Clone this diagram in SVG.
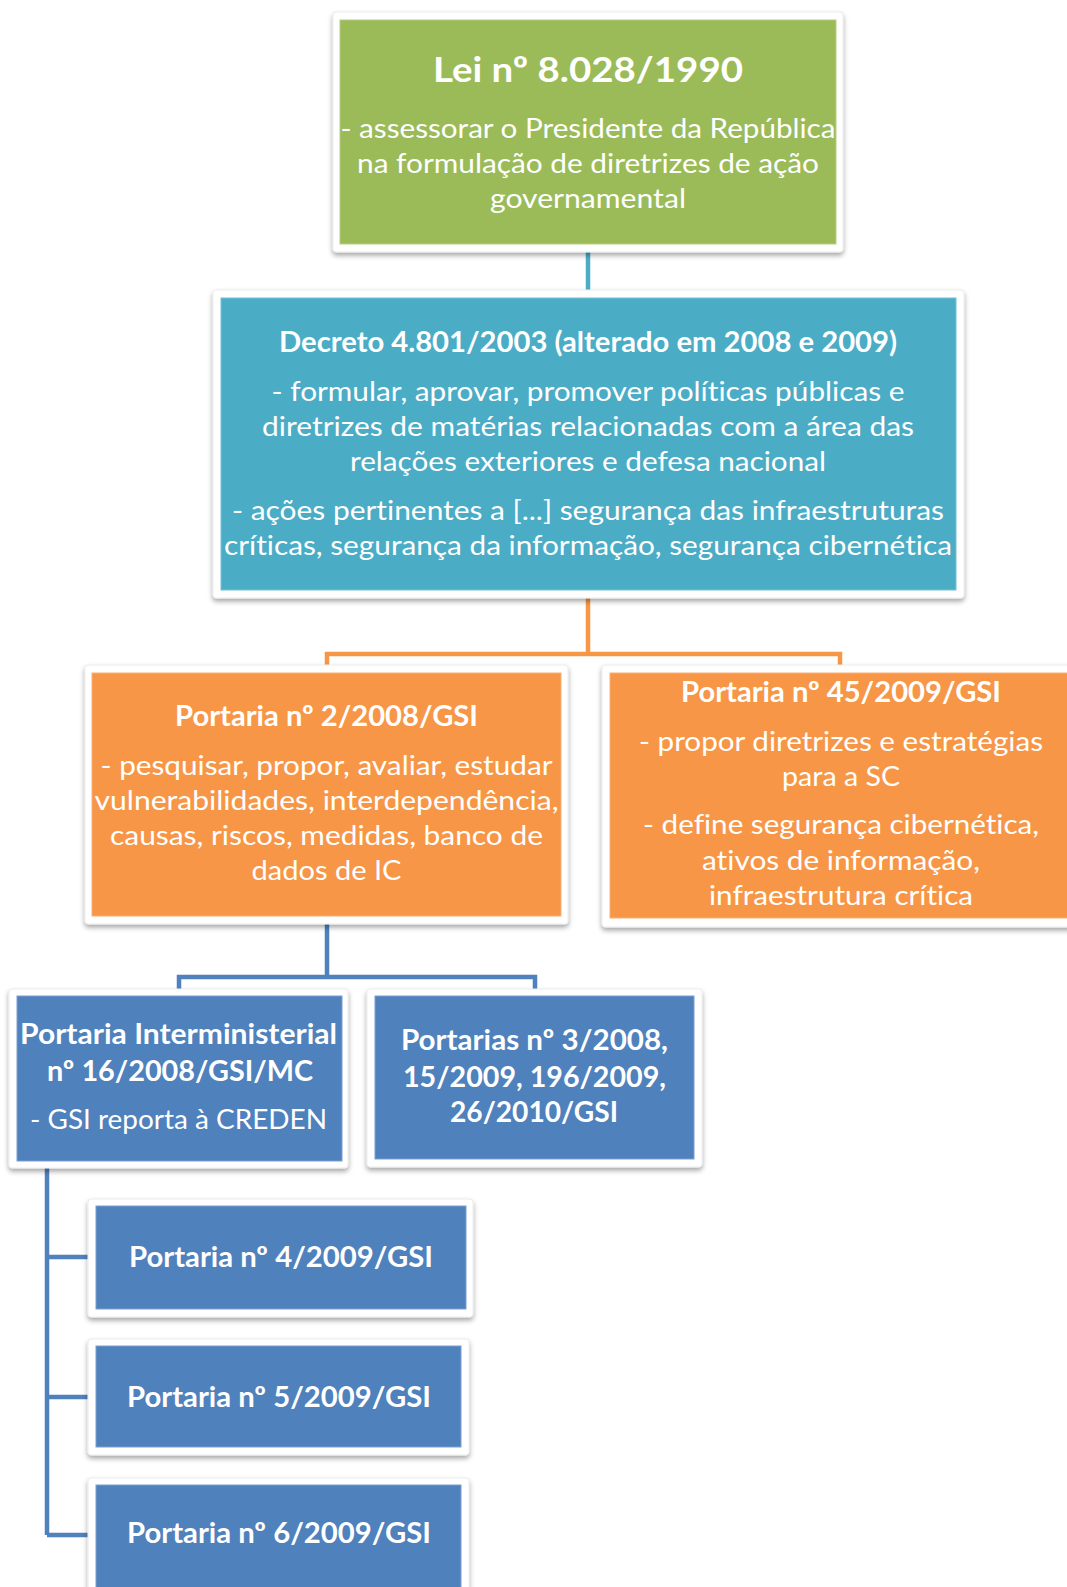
<svg xmlns="http://www.w3.org/2000/svg" width="1067" height="1587" viewBox="0 0 1067 1587">
<defs>
<filter id="sh" x="-5%" y="-5%" width="110%" height="115%">
<feDropShadow dx="0" dy="3" stdDeviation="2.5" flood-color="#000" flood-opacity="0.35"/>
</filter>
</defs>
<style>
.frame{fill:#fff;stroke:#ececec;stroke-width:1;filter:url(#sh)}
.green{fill:#9BBB59;stroke:#b4cd82;stroke-width:1}
.teal{fill:#4BACC6;stroke:#74c0d4;stroke-width:1}
.orange{fill:#F79646;stroke:#f9b075;stroke-width:1}
.blue{fill:#4F81BD;stroke:#7a9fcd;stroke-width:1}
text{font-family:Lato,"Open Sans","Liberation Sans",sans-serif;fill:#fff;text-anchor:middle;font-variant-ligatures:none;font-feature-settings:"liga" 0,"dlig" 0}
.t{font-weight:bold;font-size:29px}
.b{font-size:26px}
.c{fill:none;stroke-width:4.5}
</style>
<rect width="1067" height="1587" fill="#fff"/>
<g id="connectors">
<path class="c" stroke="#4BACC6" d="M588 252V291"/>
<path class="c" stroke="#F79646" d="M588 598V654M327 667V654H840V667"/>
<path class="c" stroke="#4F81BD" d="M327 924V977M179 990V977H535V990"/>
<path class="c" stroke="#4F81BD" d="M47 1168V1535M47 1257H90M47 1397H90M47 1535H90"/>
</g>
<g id="lei">
<rect class="frame" x="333" y="12" width="510" height="240" rx="3"/>
<rect class="green" x="340" y="20" width="496" height="224"/>
<text class="t" x="588" y="82" style="font-size:35px" textLength="310" lengthAdjust="spacingAndGlyphs">Lei nº 8.028/1990</text>
<text class="b" x="588" y="138" textLength="495" lengthAdjust="spacingAndGlyphs">- assessorar o Presidente da República</text>
<text class="b" x="588" y="173" textLength="462" lengthAdjust="spacingAndGlyphs">na formulação de diretrizes de ação</text>
<text class="b" x="588" y="208" textLength="196" lengthAdjust="spacingAndGlyphs">governamental</text>
</g>
<g id="decreto">
<rect class="frame" x="213" y="290" width="751" height="308" rx="3"/>
<rect class="teal" x="221" y="298" width="735" height="292"/>
<text class="t" x="588" y="352" textLength="618" lengthAdjust="spacingAndGlyphs">Decreto 4.801/2003 (alterado em 2008 e 2009)</text>
<text class="b" x="588" y="401" textLength="633" lengthAdjust="spacingAndGlyphs">- formular, aprovar, promover políticas públicas e</text>
<text class="b" x="588" y="436" textLength="652" lengthAdjust="spacingAndGlyphs">diretrizes de matérias relacionadas com a área das</text>
<text class="b" x="588" y="471" textLength="476" lengthAdjust="spacingAndGlyphs">relações exteriores e defesa nacional</text>
<text class="b" x="588" y="520" textLength="712" lengthAdjust="spacingAndGlyphs">- ações pertinentes a [...] segurança das infraestruturas</text>
<text class="b" x="588" y="555" textLength="728" lengthAdjust="spacingAndGlyphs">críticas, segurança da informação, segurança cibernética</text>
</g>
<g id="portaria2">
<rect class="frame" x="85" y="665" width="483" height="259" rx="3"/>
<rect class="orange" x="92" y="673" width="469" height="243"/>
<text class="t" x="326.5" y="726" textLength="303" lengthAdjust="spacingAndGlyphs">Portaria nº 2/2008/GSI</text>
<text class="b" x="326.5" y="775" textLength="452" lengthAdjust="spacingAndGlyphs">- pesquisar, propor, avaliar, estudar</text>
<text class="b" x="326.5" y="810" textLength="464" lengthAdjust="spacingAndGlyphs">vulnerabilidades, interdependência,</text>
<text class="b" x="326.5" y="845" textLength="433" lengthAdjust="spacingAndGlyphs">causas, riscos, medidas, banco de</text>
<text class="b" x="326.5" y="880" textLength="150" lengthAdjust="spacingAndGlyphs">dados de IC</text>
</g>
<g id="portaria45">
<rect class="frame" x="602" y="665" width="480" height="262" rx="3"/>
<rect class="orange" x="610" y="673" width="462" height="245"/>
<text class="t" x="841" y="702" textLength="320" lengthAdjust="spacingAndGlyphs">Portaria nº 45/2009/GSI</text>
<text class="b" x="841" y="751" textLength="404" lengthAdjust="spacingAndGlyphs">- propor diretrizes e estratégias</text>
<text class="b" x="841" y="786" textLength="118" lengthAdjust="spacingAndGlyphs">para a SC</text>
<text class="b" x="841" y="834" textLength="396" lengthAdjust="spacingAndGlyphs">- define segurança cibernética,</text>
<text class="b" x="841" y="870" textLength="278" lengthAdjust="spacingAndGlyphs">ativos de informação,</text>
<text class="b" x="841" y="905" textLength="264" lengthAdjust="spacingAndGlyphs">infraestrutura crítica</text>
</g>
<g id="interministerial">
<rect class="frame" x="9" y="989" width="339" height="179" rx="3"/>
<rect class="blue" x="17" y="996" width="325" height="165"/>
<text class="t" x="178.5" y="1044" textLength="317" lengthAdjust="spacingAndGlyphs">Portaria Interministerial</text>
<text class="t" x="180" y="1081" textLength="266" lengthAdjust="spacingAndGlyphs">nº 16/2008/GSI/MC</text>
<text class="b" x="178.5" y="1129" textLength="297" lengthAdjust="spacingAndGlyphs">- GSI reporta à CREDEN</text>
</g>
<g id="portarias3">
<rect class="frame" x="367" y="989" width="335" height="178" rx="3"/>
<rect class="blue" x="375" y="996" width="319" height="163"/>
<text class="t" x="534.5" y="1050" textLength="267" lengthAdjust="spacingAndGlyphs">Portarias nº 3/2008,</text>
<text class="t" x="534.5" y="1087" textLength="263" lengthAdjust="spacingAndGlyphs">15/2009, 196/2009,</text>
<text class="t" x="534" y="1122" textLength="168" lengthAdjust="spacingAndGlyphs">26/2010/GSI</text>
</g>
<g id="portaria4">
<rect class="frame" x="88" y="1199" width="385" height="118" rx="3"/>
<rect class="blue" x="96" y="1206" width="370" height="103"/>
<text class="t" x="281" y="1267" textLength="304" lengthAdjust="spacingAndGlyphs">Portaria nº 4/2009/GSI</text>
</g>
<g id="portaria5">
<rect class="frame" x="88" y="1339" width="381" height="116" rx="3"/>
<rect class="blue" x="96" y="1346" width="365" height="101"/>
<text class="t" x="279" y="1407" textLength="304" lengthAdjust="spacingAndGlyphs">Portaria nº 5/2009/GSI</text>
</g>
<g id="portaria6">
<rect class="frame" x="88" y="1478" width="381" height="130" rx="3"/>
<rect class="blue" x="96" y="1485" width="365" height="115"/>
<text class="t" x="279" y="1543" textLength="304" lengthAdjust="spacingAndGlyphs">Portaria nº 6/2009/GSI</text>
</g>
</svg>
